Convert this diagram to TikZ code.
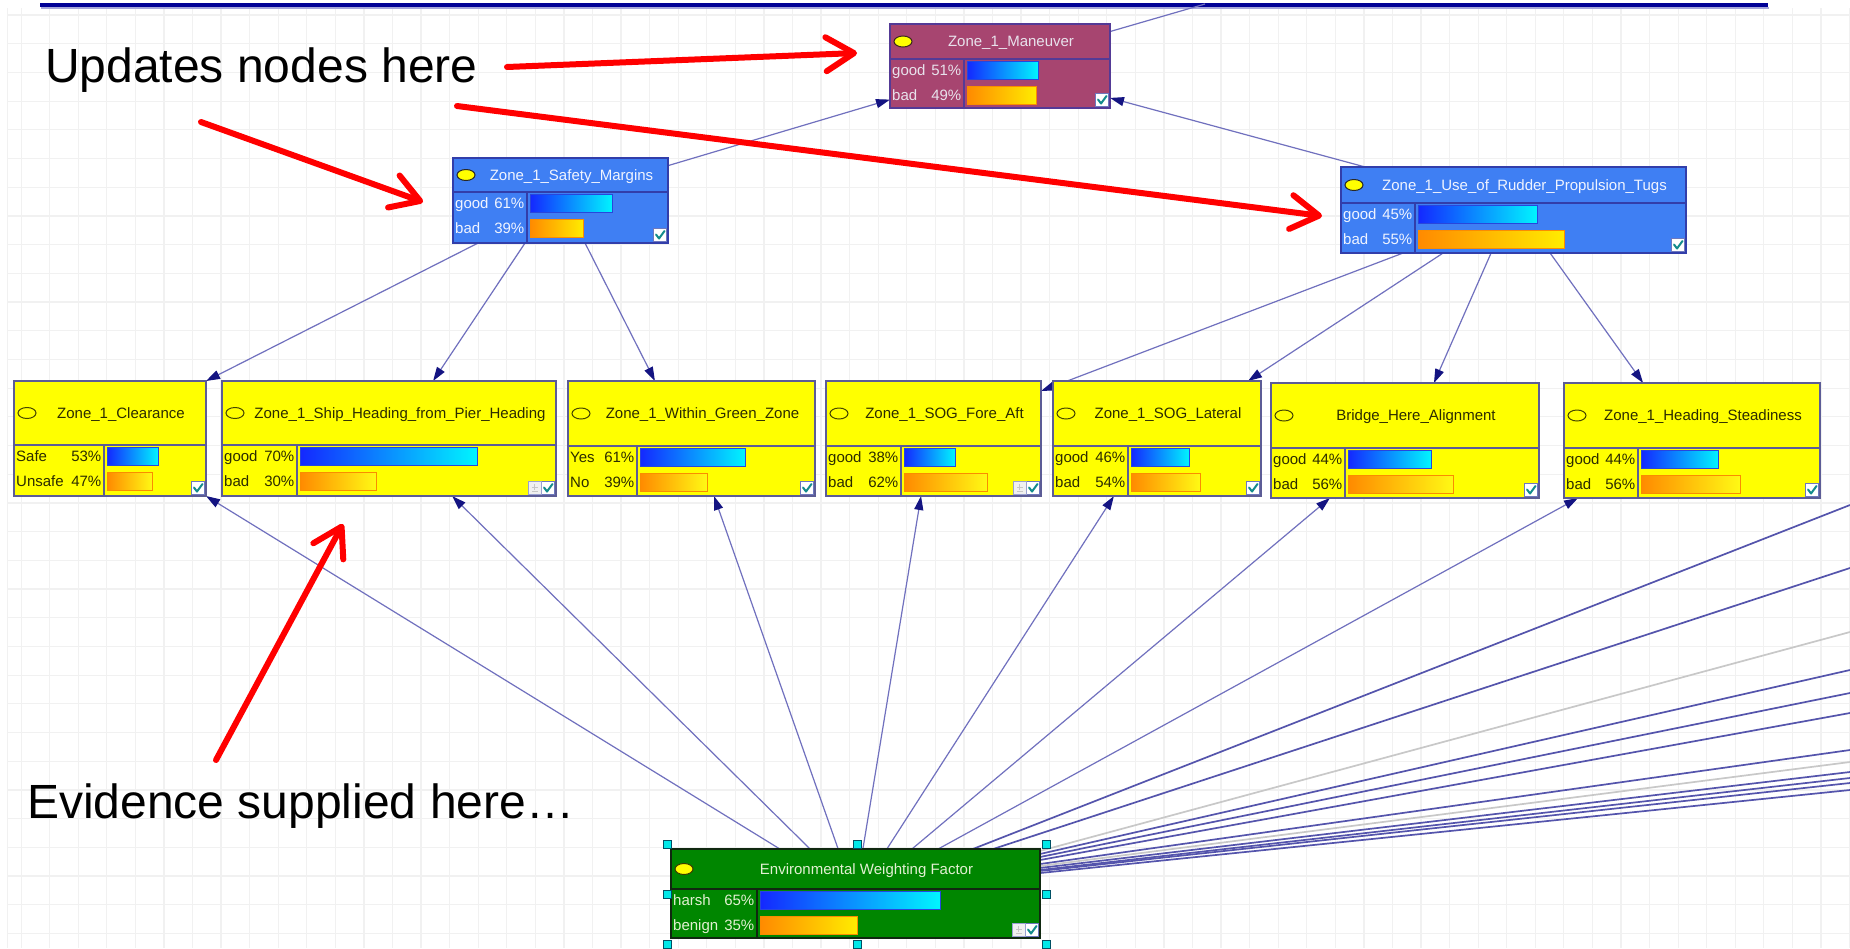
\documentclass[tikz,border=0pt]{standalone}
\usepackage{fontspec}
\setmainfont{Liberation Sans}
\usetikzlibrary{arrows.meta,calc,shapes.geometric}

% node families: fill, frame, text, indicator dot, dot ring, end colour of the orange bar
\definecolor{manfill}{RGB}{167,69,112}
\definecolor{manline}{RGB}{84,58,150}
\definecolor{mantext}{RGB}{232,226,236}
\definecolor{mandot}{RGB}{255,255,0}
\definecolor{manring}{RGB}{60,40,30}
\definecolor{manbarend}{RGB}{255,236,0}
\definecolor{topfill}{RGB}{63,127,243}
\definecolor{topline}{RGB}{50,62,170}
\definecolor{toptext}{RGB}{240,244,255}
\definecolor{topdot}{RGB}{255,255,0}
\definecolor{topring}{RGB}{40,40,40}
\definecolor{topbarend}{RGB}{255,236,0}
\definecolor{yelfill}{RGB}{255,255,0}
\definecolor{yelline}{RGB}{92,92,150}
\definecolor{yeltext}{RGB}{44,44,0}
\definecolor{yeldot}{RGB}{255,255,0}
\definecolor{yelring}{RGB}{70,70,0}
\definecolor{yelbarend}{RGB}{255,250,20}
\definecolor{envfill}{RGB}{0,134,0}
\definecolor{envline}{RGB}{16,40,16}
\definecolor{envtext}{RGB}{226,240,210}
\definecolor{envdot}{RGB}{255,255,0}
\definecolor{envring}{RGB}{60,60,0}
\definecolor{envbarend}{RGB}{255,236,0}
% bars, links and decorations
\definecolor{barblueL}{RGB}{20,40,255}
\definecolor{barblueR}{RGB}{0,246,255}
\definecolor{barblueE}{RGB}{40,70,220}
\definecolor{barorL}{RGB}{255,138,0}
\definecolor{barorE}{RGB}{250,140,0}
\definecolor{linkcol}{RGB}{112,112,190}
\definecolor{tipcol}{RGB}{20,20,130}
\definecolor{fancol}{RGB}{84,84,172}
\definecolor{fangray}{RGB}{200,200,200}
\definecolor{gridcol}{RGB}{241,241,241}
\definecolor{rulecol}{RGB}{0,0,150}
\definecolor{checkcol}{RGB}{20,140,140}
\definecolor{checkline}{RGB}{110,120,190}
\definecolor{handlefill}{RGB}{0,232,232}
\definecolor{handleline}{RGB}{0,80,100}
\definecolor{notered}{RGB}{255,0,0}

\pgfdeclarelayer{back}
\pgfdeclarelayer{links}
\pgfsetlayers{back,links,main}

% \bnnode{family}{name}{x1}{y1}{x2}{y2}{title bottom}{label divider}{title}
\newcommand\bnnode[9]{%
  \edef\bnK{#1}%
  \pgfmathsetmacro\bnXa{#3}\pgfmathsetmacro\bnYa{#4}%
  \pgfmathsetmacro\bnXb{#5}\pgfmathsetmacro\bnYb{#6}%
  \pgfmathsetmacro\bnTb{#7}\pgfmathsetmacro\bnDv{#8}%
  \pgfmathsetmacro\bnW{#5-#3}\pgfmathsetmacro\bnH{#6-#4}%
  \node[bnframe, draw=#1line, fill=#1fill, minimum width=\bnW pt, minimum height=\bnH pt]
    (#2) at ({(#3+#5)/2},{(#4+#6)/2}) {};
  \draw[bndivider, draw=#1line] (#3,#7) -- (#5,#7) (#8,#7) -- (#8,#6);
  \node[bndot, fill=#1dot, draw=#1ring] at ({#3+13},{(#4+#7)/2}) {};
  \node[bntitle, text=#1text] at ({(#3+22+#5)/2},{(#4+#7)/2}) {#9};
}
% \bnrow{row}{state}{percent}
\newcommand\bnrow[3]{%
  \pgfmathsetmacro\bnCy{\bnTb+11.5+24.5*(#1-1)}%
  \pgfmathsetmacro\bnLen{#3/100*(\bnXb-\bnDv-5)}%
  \node[bnstate, text=\bnK text, anchor=west] at ({\bnXa+2},\bnCy) {#2};
  \node[bnstate, text=\bnK text, anchor=east] at ({\bnDv-2.5},\bnCy) {#3\%};
  \ifnum#1=1
    \draw[bluebar] ({\bnDv+3},{\bnCy-9}) rectangle ({\bnDv+3+\bnLen},{\bnCy+9});
  \else
    \draw[orangebar, right color=\bnK barend] ({\bnDv+3},{\bnCy-9}) rectangle ({\bnDv+3+\bnLen},{\bnCy+9});
  \fi
}
% \bncheck{1 = with spare box}
\newcommand\bncheck[1]{%
  \draw[chkbox] ({\bnXb-14.5},{\bnYb-14.5}) rectangle ({\bnXb-1.5},{\bnYb-1.5});
  \draw[chkmark] ({\bnXb-12},{\bnYb-8.5}) -- ({\bnXb-9},{\bnYb-4.5}) -- ({\bnXb-3.5},{\bnYb-12});
  \ifnum#1=1
    \draw[chkspare] ({\bnXb-28},{\bnYb-14.5}) rectangle ({\bnXb-14.5},{\bnYb-1.5});
    \draw[line width=.8pt, draw=gray!45] ({\bnXb-21.2},{\bnYb-12}) -- ({\bnXb-21.2},{\bnYb-6})
      ({\bnXb-24},{\bnYb-9}) -- ({\bnXb-18.5},{\bnYb-9})
      ({\bnXb-24},{\bnYb-4.5}) -- ({\bnXb-18.5},{\bnYb-4.5});
  \fi
}

\begin{document}
\begin{tikzpicture}[x=1pt, y=-1pt,
  bnframe/.style={rectangle, inner sep=0pt, outer sep=0pt, line width=1.4pt},
  bndivider/.style={line width=1.4pt},
  bndot/.style={ellipse, minimum width=18pt, minimum height=11pt, inner sep=0pt, line width=1pt},
  bntitle/.style={font=\fontsize{15}{18}\selectfont, inner sep=0pt, text height=10.7pt, text depth=0pt},
  bnstate/.style={font=\fontsize{15}{18}\selectfont, inner sep=0pt, text height=10.7pt, text depth=0pt},
  bluebar/.style={left color=barblueL, right color=barblueR, draw=barblueE, line width=1pt},
  orangebar/.style={left color=barorL, draw=barorE, line width=.9pt},
  chkbox/.style={fill=white, draw=checkline, line width=.8pt},
  chkspare/.style={fill=gray!12, draw=checkline!70, line width=.8pt},
  chkmark/.style={draw=checkcol, line width=2pt, line cap=round, line join=round},
  link/.style={draw=linkcol, line width=1.2pt, -{Triangle[length=14pt,width=9pt,color=tipcol]}},
  linkplain/.style={draw=linkcol, line width=1.2pt},
  fanlink/.style={draw=fancol, line width=1.7pt},
  fangraylink/.style={draw=fangray, line width=1.7pt},
  gridline/.style={draw=gridcol, line width=1.2pt},
  handle/.style={fill=handlefill, draw=handleline, line width=.8pt},
  note/.style={font=\fontsize{48}{58}\selectfont, inner sep=0pt, text=black},
  notearrow/.style={draw=notered, line width=6pt, line cap=round,
    -{Straight Barb[length=28pt,width=34pt,round]}}
]
\useasboundingbox (0,0) rectangle (1850,948);

% canvas and grid
\begin{pgfonlayer}{back}
  \fill[white] (0,0) rectangle (1850,948);
  \foreach \i in {0,...,64} \draw[gridline] ({21.1+28.57*\i},8) -- ({21.1+28.57*\i},948);
  \foreach \j in {0,...,32} \draw[gridline] (7.5,{15+28.7*\j}) -- (1850,{15+28.7*\j});
  \draw[gridline] (7.5,8) -- (7.5,948);
  \draw[rulecol!35, line width=2pt] (41,8) -- (1769,8);
  \draw[rulecol, line width=4pt] (40,5.3) -- (1768,5.3);
\end{pgfonlayer}

% top level
\bnnode{man}{man}{890}{24}{1110}{108}{59}{964}{Zone\_1\_Maneuver}
\bnrow{1}{good}{51}\bnrow{2}{bad}{49}\bncheck{0}

\bnnode{top}{saf}{453}{158}{668}{243}{192}{527}{Zone\_1\_Safety\_Margins}
\bnrow{1}{good}{61}\bnrow{2}{bad}{39}\bncheck{0}

\bnnode{top}{rud}{1341}{167}{1686}{253}{203}{1415}{Zone\_1\_Use\_of\_Rudder\_Propulsion\_Tugs}
\bnrow{1}{good}{45}\bnrow{2}{bad}{55}\bncheck{0}

% indicator row
\bnnode{yel}{clr}{14}{381}{206}{496}{445}{104}{Zone\_1\_Clearance}
\bnrow{1}{Safe}{53}\bnrow{2}{Unsafe}{47}\bncheck{0}

\bnnode{yel}{shp}{222}{381}{556}{496}{445}{297}{Zone\_1\_Ship\_Heading\_from\_Pier\_Heading}
\bnrow{1}{good}{70}\bnrow{2}{bad}{30}\bncheck{1}

\bnnode{yel}{grn}{568}{381}{815}{496}{446}{637}{Zone\_1\_Within\_Green\_Zone}
\bnrow{1}{Yes}{61}\bnrow{2}{No}{39}\bncheck{0}

\bnnode{yel}{aft}{826}{381}{1041}{496}{446}{901}{Zone\_1\_SOG\_Fore\_Aft}
\bnrow{1}{good}{38}\bnrow{2}{bad}{62}\bncheck{1}

\bnnode{yel}{lat}{1053}{381}{1261}{496}{446}{1128}{Zone\_1\_SOG\_Lateral}
\bnrow{1}{good}{46}\bnrow{2}{bad}{54}\bncheck{0}

\bnnode{yel}{brg}{1271}{383}{1539}{498}{448}{1345}{Bridge\_Here\_Alignment}
\bnrow{1}{good}{44}\bnrow{2}{bad}{56}\bncheck{0}

\bnnode{yel}{std}{1564}{383}{1820}{498}{448}{1638}{Zone\_1\_Heading\_Steadiness}
\bnrow{1}{good}{44}\bnrow{2}{bad}{56}\bncheck{0}

% evidence node with its selection handles
\bnnode{env}{env}{671}{849}{1040}{938}{889}{757}{Environmental Weighting Factor}
\bnrow{1}{harsh}{65}\bnrow{2}{benign}{35}\bncheck{1}
\foreach \hx/\hy in {667/844.5, 857/844.5, 1046.5/844.5, 667/894, 1046.5/894, 667/944, 857/944, 1046.5/944}
  \draw[handle] ({\hx-4},{\hy-4}) rectangle ({\hx+4},{\hy+4});

% links
\begin{pgfonlayer}{links}
  \draw[link] ($(saf.north east)!0.09!(saf.south east)$) -- ($(man.north west)!0.9!(man.south west)$);
  \draw[link] ($(rud.north west)!0.07!(rud.north east)$) -- ($(man.north east)!0.88!(man.south east)$);
  \coordinate (offtop) at (1205,4);
  \draw[linkplain] ($(man.north east)!0.09!(man.south east)$) -- (offtop);

  \draw[link] ($(saf.south west)!0.117!(saf.south east)$) -- (clr.north east);
  \draw[link] ($(saf.south west)!0.335!(saf.south east)$) -- ($(shp.north west)!0.632!(shp.north east)$);
  \draw[link] ($(saf.south west)!0.614!(saf.south east)$) -- ($(grn.north west)!0.352!(grn.north east)$);

  \draw[link] ($(rud.south west)!0.18!(rud.south east)$) -- ($(aft.north east)!0.087!(aft.south east)$);
  \draw[link] ($(rud.south west)!0.296!(rud.south east)$) -- ($(lat.north west)!0.9375!(lat.north east)$);
  \draw[link] ($(rud.south west)!0.435!(rud.south east)$) -- ($(brg.north west)!0.608!(brg.north east)$);
  \draw[link] ($(rud.south west)!0.606!(rud.south east)$) -- ($(std.north west)!0.309!(std.north east)$);

  \draw[link] ($(env.north west)!0.295!(env.north east)$) -- (clr.south east);
  \draw[link] ($(env.north west)!0.377!(env.north east)$) -- ($(shp.south west)!0.689!(shp.south east)$);
  \draw[link] ($(env.north west)!0.453!(env.north east)$) -- ($(grn.south west)!0.591!(grn.south east)$);
  \draw[link] ($(env.north west)!0.52!(env.north east)$) -- ($(aft.south west)!0.442!(aft.south east)$);
  \draw[link] ($(env.north west)!0.585!(env.north east)$) -- ($(lat.south west)!0.293!(lat.south east)$);
  \draw[link] ($(env.north west)!0.653!(env.north east)$) -- ($(brg.south west)!0.22!(brg.south east)$);
  \draw[link] ($(env.north west)!0.724!(env.north east)$) -- ($(std.south west)!0.055!(std.south east)$);

  % links leaving the view to the right
  \foreach \n/\y in {1/505, 2/568, 3/632, 4/670, 5/693, 6/713, 7/750, 8/762, 9/772, 10/778, 11/783, 12/790}
    \coordinate (far\n) at (1850,\y);
  \draw[fanlink] ($(env.north west)!0.818!(env.north east)$) -- (far1);
  \draw[fanlink] ($(env.north west)!0.873!(env.north east)$) -- (far2);
  \draw[fangraylink] ($(env.north east)!0.022!(env.south east)$) -- (far3);
  \draw[fanlink] ($(env.north east)!0.056!(env.south east)$) -- (far4);
  \draw[fanlink] ($(env.north east)!0.09!(env.south east)$) -- (far5);
  \draw[fanlink] ($(env.north east)!0.124!(env.south east)$) -- (far6);
  \draw[fanlink] ($(env.north east)!0.169!(env.south east)$) -- (far7);
  \draw[fangraylink] ($(env.north east)!0.191!(env.south east)$) -- (far8);
  \draw[fanlink] ($(env.north east)!0.213!(env.south east)$) -- (far9);
  \draw[fanlink] ($(env.north east)!0.236!(env.south east)$) -- (far10);
  \draw[fanlink] ($(env.north east)!0.247!(env.south east)$) -- (far11);
  \draw[fanlink] ($(env.north east)!0.27!(env.south east)$) -- (far12);
\end{pgfonlayer}

% annotations
\node[note, anchor=base west] (upd) at (45,82) {Updates nodes here};
\node[note, anchor=base west] (evi) at (27,818) {Evidence supplied here…};

\coordinate (ra1) at (507,67);   \coordinate (rb1) at (857,53);
\coordinate (ra2) at (201,122);  \coordinate (rb2) at (423,202);
\coordinate (ra3) at (457,106);  \coordinate (rb3) at (1322,216);
\coordinate (ra4) at (216,760);  \coordinate (rb4) at (343,524);
\draw[notearrow] (ra1) -- (rb1);
\draw[notearrow] (ra2) -- (rb2);
\draw[notearrow] (ra3) -- (rb3);
\draw[notearrow] (ra4) -- (rb4);
\end{tikzpicture}
\end{document}
